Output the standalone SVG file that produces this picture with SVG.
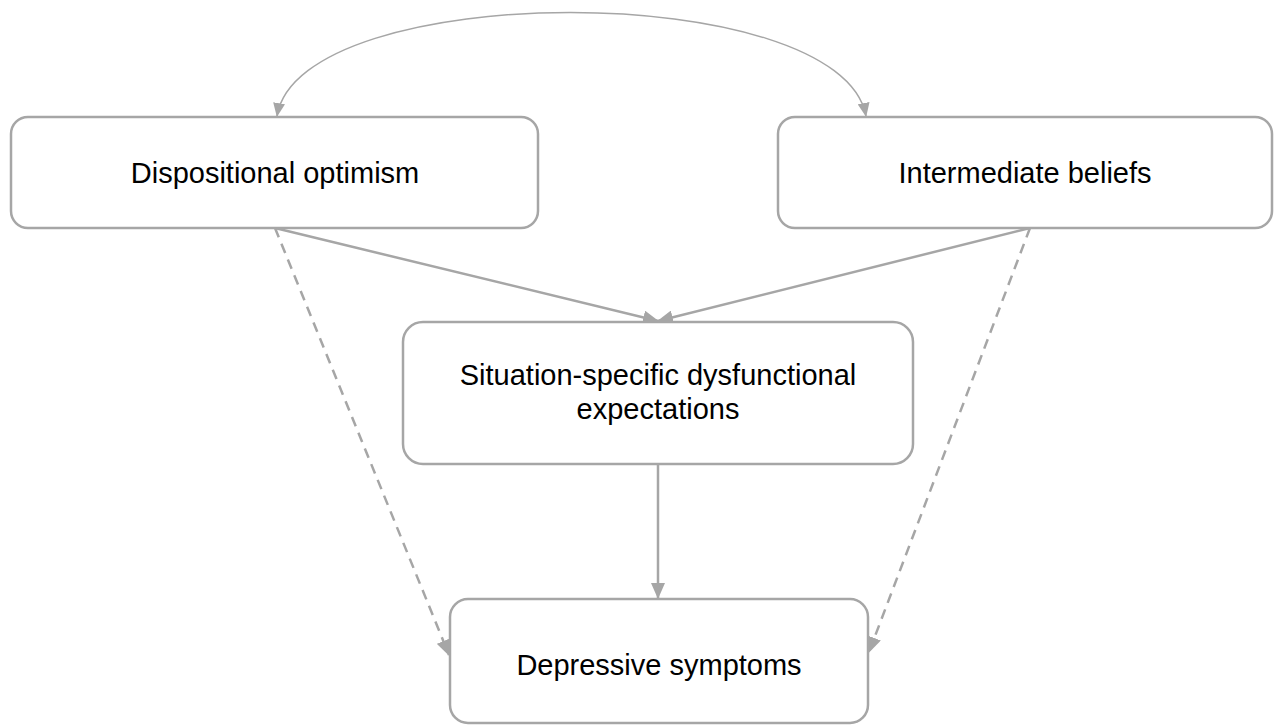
<svg xmlns="http://www.w3.org/2000/svg" width="1274" height="725" viewBox="0 0 1274 725">
<style>
.box{fill:#fff;stroke:#a6a6a6;stroke-width:2.5}
.lbl{font-family:"Liberation Sans",Arial,sans-serif;font-size:29px;fill:#000;text-anchor:middle}
.c{fill:none;stroke:#a6a6a6;stroke-width:2.5}
.d{stroke-dasharray:10 7}
.arc{fill:none;stroke:#a6a6a6;stroke-width:1.5}
</style>
<defs>
<marker id="ah" markerUnits="userSpaceOnUse" markerWidth="16" markerHeight="14" refX="15" refY="7" orient="auto">
<path d="M0,0 L16,7 L0,14 Z" fill="#a6a6a6"/>
</marker>
<marker id="ahs" markerUnits="userSpaceOnUse" markerWidth="14" markerHeight="12" refX="13" refY="6" orient="auto">
<path d="M0,0 L14,6 L0,12 Z" fill="#a6a6a6"/>
</marker>
<marker id="ahsr" markerUnits="userSpaceOnUse" markerWidth="14" markerHeight="12" refX="1" refY="6" orient="auto">
<path d="M14,0 L0,6 L14,12 Z" fill="#a6a6a6"/>
</marker>
</defs>
<g id="connectors">
<path class="arc" d="M277,116 C300,-22 840,-22 866,116" marker-start="url(#ahsr)" marker-end="url(#ahs)"/>
<line class="c" x1="275" y1="228" x2="658" y2="321" marker-end="url(#ah)"/>
<line class="c" x1="1030" y1="228" x2="658" y2="321" marker-end="url(#ah)"/>
<line class="c" x1="658" y1="464" x2="658" y2="598" marker-end="url(#ah)"/>
<line class="c d" x1="275" y1="228" x2="449" y2="655" marker-end="url(#ah)"/>
<line class="c d" x1="1030" y1="228" x2="869" y2="652" marker-end="url(#ah)"/>
</g>
<g id="node-dispositional">
<rect class="box" x="11" y="117" width="527" height="111" rx="17"/>
<text class="lbl" x="275" y="183">Dispositional optimism</text>
</g>
<g id="node-intermediate">
<rect class="box" x="778" y="117" width="494" height="111" rx="17"/>
<text class="lbl" x="1025" y="183">Intermediate beliefs</text>
</g>
<g id="node-situation">
<rect class="box" x="403" y="322" width="510" height="142" rx="20"/>
<text class="lbl" x="658" y="385">Situation-specific dysfunctional</text>
<text class="lbl" x="658" y="419">expectations</text>
</g>
<g id="node-depressive">
<rect class="box" x="450" y="599" width="418" height="124" rx="18"/>
<text class="lbl" x="659" y="675">Depressive symptoms</text>
</g>
</svg>
